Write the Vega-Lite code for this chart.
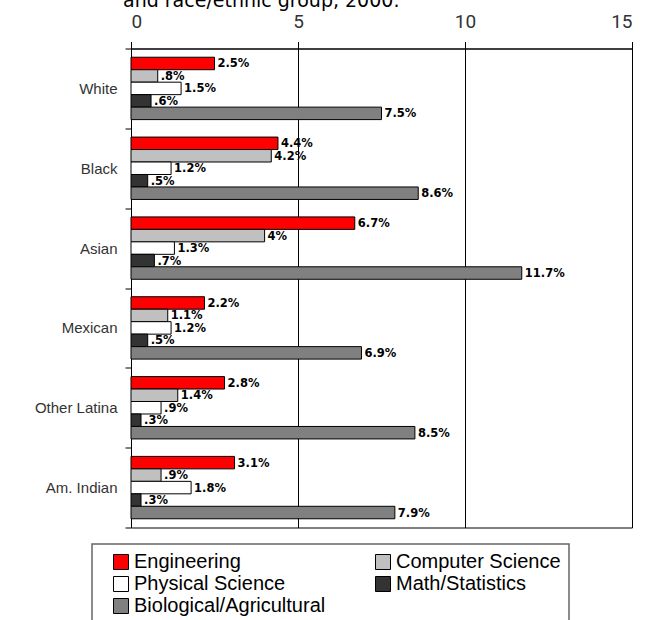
{
  "$schema": "https://vega.github.io/schema/vega-lite/v6.json",
  "width": 501,
  "height": 479,
  "autosize": {"type": "none"},
  "padding": {"left": 131, "top": 48.5, "right": 25, "bottom": 92.5},
  "background": "white",
  "title": {"text": "and race/ethnic group, 2000.", "anchor": "start", "frame": "group", "orient": "top", "dx": -8, "dy": 20, "offset": 7, "baseline": "alphabetic", "font": "DejaVu Sans", "fontSize": 19, "fontWeight": "normal", "color": "#000"},
  "data": {"values": [
    {"group": "White", "field": "Engineering", "pct": 2.5, "label": "2.5%"},
    {"group": "White", "field": "Computer Science", "pct": 0.8, "label": ".8%"},
    {"group": "White", "field": "Physical Science", "pct": 1.5, "label": "1.5%"},
    {"group": "White", "field": "Math/Statistics", "pct": 0.6, "label": ".6%"},
    {"group": "White", "field": "Biological/Agricultural", "pct": 7.5, "label": "7.5%"},
    {"group": "Black", "field": "Engineering", "pct": 4.4, "label": "4.4%"},
    {"group": "Black", "field": "Computer Science", "pct": 4.2, "label": "4.2%"},
    {"group": "Black", "field": "Physical Science", "pct": 1.2, "label": "1.2%"},
    {"group": "Black", "field": "Math/Statistics", "pct": 0.5, "label": ".5%"},
    {"group": "Black", "field": "Biological/Agricultural", "pct": 8.6, "label": "8.6%"},
    {"group": "Asian", "field": "Engineering", "pct": 6.7, "label": "6.7%"},
    {"group": "Asian", "field": "Computer Science", "pct": 4.0, "label": "4%"},
    {"group": "Asian", "field": "Physical Science", "pct": 1.3, "label": "1.3%"},
    {"group": "Asian", "field": "Math/Statistics", "pct": 0.7, "label": ".7%"},
    {"group": "Asian", "field": "Biological/Agricultural", "pct": 11.7, "label": "11.7%"},
    {"group": "Mexican", "field": "Engineering", "pct": 2.2, "label": "2.2%"},
    {"group": "Mexican", "field": "Computer Science", "pct": 1.1, "label": "1.1%"},
    {"group": "Mexican", "field": "Physical Science", "pct": 1.2, "label": "1.2%"},
    {"group": "Mexican", "field": "Math/Statistics", "pct": 0.5, "label": ".5%"},
    {"group": "Mexican", "field": "Biological/Agricultural", "pct": 6.9, "label": "6.9%"},
    {"group": "Other Latina", "field": "Engineering", "pct": 2.8, "label": "2.8%"},
    {"group": "Other Latina", "field": "Computer Science", "pct": 1.4, "label": "1.4%"},
    {"group": "Other Latina", "field": "Physical Science", "pct": 0.9, "label": ".9%"},
    {"group": "Other Latina", "field": "Math/Statistics", "pct": 0.3, "label": ".3%"},
    {"group": "Other Latina", "field": "Biological/Agricultural", "pct": 8.5, "label": "8.5%"},
    {"group": "Am. Indian", "field": "Engineering", "pct": 3.1, "label": "3.1%"},
    {"group": "Am. Indian", "field": "Computer Science", "pct": 0.9, "label": ".9%"},
    {"group": "Am. Indian", "field": "Physical Science", "pct": 1.8, "label": "1.8%"},
    {"group": "Am. Indian", "field": "Math/Statistics", "pct": 0.3, "label": ".3%"},
    {"group": "Am. Indian", "field": "Biological/Agricultural", "pct": 7.9, "label": "7.9%"}
  ]},
  "encoding": {
    "y": {"field": "group", "type": "nominal",
      "sort": ["White", "Black", "Asian", "Mexican", "Other Latina", "Am. Indian"],
      "scale": {"paddingInner": 0, "paddingOuter": 0},
      "axis": {"title": null, "tickBand": "extent", "tickSize": 6, "tickColor": "#000", "domainColor": "#000", "labelFont": "Liberation Sans", "labelFontSize": 15, "labelColor": "#333", "labelPadding": 8, "grid": false}},
    "yOffset": {"field": "field", "type": "nominal",
      "sort": ["Engineering", "Computer Science", "Physical Science", "Math/Statistics", "Biological/Agricultural"],
      "scale": {"paddingInner": 0, "paddingOuter": 0.7}},
    "x": {"field": "pct", "type": "quantitative",
      "scale": {"domain": [0, 15], "nice": false},
      "axis": {"orient": "top", "title": null, "values": [0, 5, 10, 15], "grid": true, "gridColor": "#000", "gridOpacity": 1, "tickSize": 7, "tickColor": "#000", "domainColor": "#000", "labelFont": "Roboto", "labelFontSize": 19, "labelColor": "#333", "labelPadding": 10}}
  },
  "layer": [
    {"mark": {"type": "bar", "stroke": "#000", "strokeWidth": 1},
     "encoding": {"color": {"field": "field", "type": "nominal",
       "scale": {"domain": ["Engineering", "Physical Science", "Biological/Agricultural", "Computer Science", "Math/Statistics"],
                 "range": ["#FF0000", "#FFFFFF", "#808080", "#C0C0C0", "#333333"]},
       "legend": {"orient": "none", "legendX": -39, "legendY": 495.5, "columns": 2, "title": null,
         "symbolType": "square", "symbolSize": 225, "symbolStrokeColor": "#000", "symbolStrokeWidth": 1,
         "labelFont": "Liberation Sans", "labelFontSize": 20, "labelColor": "#000", "labelOffset": 3, "labelLimit": 400,
         "rowPadding": 2, "columnPadding": 36, "padding": 8, "gridAlign": "all", "symbolOffset": 11,
         "strokeColor": "#666", "fillColor": "#fff",
         "encode": {"legend": {"update": {"strokeWidth": {"value": 1.5}}}}}}}},
    {"mark": {"type": "text", "align": "left", "baseline": "middle", "dx": 3, "dy": 1, "font": "DejaVu Sans", "fontWeight": "bold", "fontSize": 11.5, "color": "#000"},
     "encoding": {"text": {"field": "label"}}}
  ],
  "config": {"view": {"stroke": "#000", "strokeWidth": 1}}
}
